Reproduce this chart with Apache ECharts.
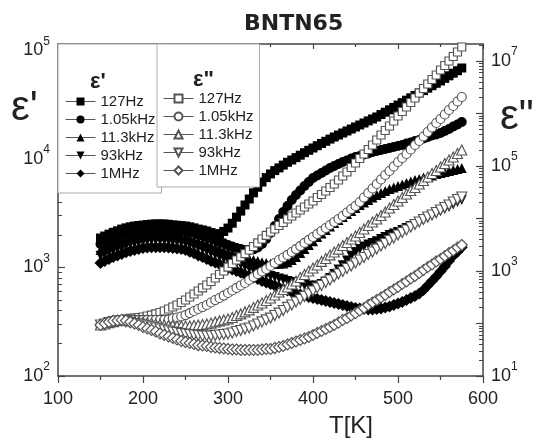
<!DOCTYPE html>
<html>
<head>
<meta charset="utf-8">
<title>BNTN65</title>
<script src="https://cdn.jsdelivr.net/npm/echarts@6/dist/echarts.min.js"></script>
<style>
  html, body { margin: 0; padding: 0; background: #fff; }
  #chart { width: 536px; height: 443px; }
</style>
</head>
<body>
<div id="chart"></div>
<script>
// temperature, K
const temps = [150,155,160,165,170,175,180,185,190,195,200,205,210,215,220,225,230,235,240,245,250,255,260,265,270,275,280,285,290,295,300,305,310,315,320,325,330,335,340,345,350,355,360,365,370,375,380,385,390,395,400,405,410,415,420,425,430,435,440,445,450,455,460,465,470,475,480,485,490,495,500,505,510,515,520,525,530,535,540,545,550,555,560,565,570,575];

// eps' (left axis, filled symbols)
const re127 = [1870,1950,2030,2110,2180,2260,2320,2370,2410,2440,2460,2490,2510,2520,2520,2520,2500,2470,2450,2430,2410,2370,2320,2260,2220,2170,2100,2040,2050,2150,2310,2560,2910,3310,3770,4280,4880,5490,6130,6740,7280,7820,8280,8790,9330,9790,10300,10840,11430,12030,12630,13260,13900,14560,15260,15950,16640,17360,18120,18900,19720,20580,21470,22450,23380,24390,25720,27010,28410,29900,31450,33100,34830,36660,38480,40580,42700,44930,47380,49860,52360,55340,58460,61780,65150,68990];
const re1k = [1650,1720,1790,1870,1930,1990,2060,2100,2150,2190,2220,2240,2260,2260,2260,2260,2260,2240,2220,2190,2170,2120,2080,2020,1970,1910,1850,1790,1720,1670,1610,1560,1510,1480,1450,1450,1470,1530,1650,1830,2080,2410,2800,3250,3690,4190,4660,5130,5640,6140,6680,7050,7430,7830,8260,8620,8990,9380,9690,10110,10430,10660,11000,11240,11600,11850,12100,12370,12630,12900,13180,13460,13900,14190,14660,14970,15450,15950,16470,16820,17360,18120,18900,19930,20800,21930];
const re11k = [1450,1510,1580,1650,1700,1750,1810,1870,1910,1950,1990,2010,2040,2040,2040,2040,2010,1990,1970,1950,1910,1850,1790,1750,1700,1650,1590,1540,1480,1430,1390,1350,1300,1260,1220,1200,1170,1150,1120,1100,1080,1080,1080,1090,1120,1170,1250,1360,1480,1610,1750,1910,2060,2220,2390,2570,2740,2920,3110,3320,3530,3770,3970,4190,4420,4660,4860,5070,5290,5460,5640,5820,6010,6200,6410,6540,6760,6900,7050,7280,7430,7590,7750,7920,8090,8260];
const re93k = [1280,1330,1390,1450,1500,1540,1590,1650,1680,1720,1750,1770,1790,1790,1790,1790,1770,1750,1740,1720,1680,1630,1580,1530,1480,1420,1360,1320,1260,1220,1170,1140,1100,1070,1020,990,959,929,899,862,835,818,792,775,751,735,720,705,690,683,675,683,705,743,800,871,959,1050,1160,1280,1390,1480,1560,1630,1680,1750,1830,1910,1990,2060,2120,2220,2310,2410,2520,2630,2740,2860,3020,3150,3320,3460,3610,3810,4020,4190];
const re1M = [1100,1150,1200,1250,1290,1330,1380,1420,1450,1480,1510,1530,1540,1540,1540,1540,1530,1510,1500,1480,1450,1400,1350,1290,1250,1200,1150,1110,1070,1030,990,959,929,899,862,835,809,783,751,727,705,683,654,634,614,595,576,564,552,535,524,513,502,491,481,471,461,451,442,432,423,419,415,410,410,415,419,428,437,451,466,481,502,524,546,576,620,683,751,826,919,1020,1150,1280,1400,1540];

// eps'' (right axis, open symbols)
const im127 = [93.6,97.8,102,107,112,117,122,125,127,130,133,139,145,152,162,173,189,206,225,251,280,320,365,416,475,541,631,736,858,1000,1190,1390,1620,1850,2150,2510,2930,3420,4070,4750,5530,6310,7360,8390,9780,11160,12730,14520,16560,18890,21540,25120,28650,33410,38950,45410,54120,64500,76880,93640,114100,139000,169300,206200,251200,312800,389500,474600,578000,719700,896500,1092000,1330000,1620000,1974000,2458000,2995000,3647000,4443000,5412000,6740000,8210000,10000000,12180000,14840000,18480000];
const im1k = [93.6,97.8,102,107,109,112,114,117,117,117,117,117,117,117,117,117,119,125,130,136,145,158,173,189,206,225,251,280,306,341,381,425,475,530,591,674,769,877,978,1092,1245,1420,1620,1808,2020,2300,2620,2990,3420,3900,4440,5070,5780,6590,7520,8580,9780,11160,13010,15170,17310,20620,25120,30600,37280,45410,55340,67400,80310,97830,119200,142000,169300,206200,251200,299400,364700,444300,541200,659200,785700,957200,1166000,1390000,1693000,2062000];
const im11k = [93.6,97.8,104,109,114,117,114,112,109,109,107,104,102,97.8,95.7,93.6,91.6,91.6,89.6,89.6,89.6,89.6,91.6,93.6,95.7,97.8,102,107,112,117,122,130,142,152,166,181,202,225,246,274,306,349,398,444,496,566,645,752,858,1000,1141,1300,1520,1730,2020,2300,2620,3060,3490,4070,4640,5410,6310,7360,8580,9780,11410,13300,15850,18480,21540,25120,29290,34150,38950,45410,52940,61730,71970,82100,95720,111600,130100,148400,173000,201700];
const im93k = [93.6,97.8,104,109,112,112,109,104,100,97.8,93.6,89.6,85.8,82.1,78.6,75.2,72.0,68.9,67.4,64.5,63.1,61.7,60.4,59.1,57.8,57.8,57.8,59.1,60.4,61.7,63.1,65.9,70.4,73.6,78.6,82.1,89.6,97.8,107,117,127,142,158,177,202,225,257,287,327,365,416,475,530,604,674,769,877,978,1116,1245,1420,1620,1808,2060,2300,2620,2990,3340,3810,4250,4850,5410,6040,6890,7690,8580,9570,10680,11660,13010,14520,16200,18080,20620,23010,25670];
const im1M = [93.6,100,107,112,114,117,114,107,100,93.6,85.8,80.3,75.2,70.4,64.5,60.4,56.5,52.9,49.6,46.4,44.4,42.5,40.7,38.9,38.1,37.3,35.7,34.9,34.1,33.4,32.7,32.0,32.0,31.3,31.3,31.3,31.3,31.3,32.0,32.7,32.7,34.1,35.7,37.3,39.8,42.5,45.4,48.5,51.8,55.3,60.4,65.9,72.0,78.6,85.8,93.6,104,117,127,142,158,177,197,225,251,280,313,349,398,444,496,566,631,720,803,916,1045,1192,1330,1520,1693,1931,2200,2460,2800,3130];

const freqs = ['127Hz', '1.05kHz', '11.3kHz', '93kHz', '1MHz'];

// axis ticks
const majorL = [100, 1000, 10000, 100000];
const minorL = [200,300,400,500,600,700,800,900,2000,3000,4000,5000,6000,7000,8000,9000,20000,30000,40000,50000,60000,70000,80000,90000];
const majorR = [10, 100, 1000, 10000, 100000, 1000000, 10000000];
const labelR = [10, 1000, 100000, 10000000];
const minorR = [20,30,40,50,60,70,80,90,200,300,400,500,600,700,800,900,2000,3000,4000,5000,6000,7000,8000,9000,20000,30000,40000,50000,60000,70000,80000,90000,200000,300000,400000,500000,600000,700000,800000,900000,2000000,3000000,4000000,5000000,6000000,7000000,8000000,9000000,20000000];

const FONT = 'Arial, "Liberation Sans", sans-serif';
const AXIS = '#444';
const TXT = '#222';

const symbols = ['rect', 'circle', 'triangle', 'triangle', 'diamond'];
const rotate = [0, 0, 0, 180, 0];
const sizeFilled = [9, 10, 10, 10, 12];
const sizeOpen = [8, 9, 10, 10, 11];

function makeSeries(vals, i, filled) {
  return {
    name: (filled ? "r " : "i ") + freqs[i],
    type: 'line',
    xAxisIndex: 0,
    yAxisIndex: filled ? 0 : 1,
    data: temps.map(function (t, k) { return [t, vals[k]]; }),
    symbol: symbols[i],
    symbolRotate: rotate[i],
    symbolSize: filled ? sizeFilled[i] : sizeOpen[i],
    showAllSymbol: true,
    lineStyle: { opacity: 0, width: 0 },
    itemStyle: filled
      ? { color: '#000', borderWidth: 0 }
      : { color: '#fff', borderColor: '#555', borderWidth: 1.2 },
    emphasis: { disabled: true },
    silent: true,
    animation: false,
    z: filled ? 2 : 3
  };
}

const realSets = [re127, re1k, re11k, re93k, re1M];
const imagSets = [im127, im1k, im11k, im93k, im1M];
const series = [];
realSets.forEach(function (v, i) { series.push(makeSeries(v, i, true)); });
imagSets.forEach(function (v, i) { series.push(makeSeries(v, i, false)); });

function powLabel(v) {
  const e = Math.round(Math.log10(v));
  return '{m|10}{s|' + e + '}';
}
const richPow = {
  m: { fontSize: 18, color: TXT, fontFamily: FONT, lineHeight: 30 },
  s: { fontSize: 12, color: TXT, fontFamily: FONT, lineHeight: 12, verticalAlign: 'top' }
};

const legendBase = {
  orient: 'vertical',
  itemWidth: 30,
  itemHeight: 10,
  itemGap: 3,
  backgroundColor: '#fff',
  borderColor: '#aaa',
  borderWidth: 1,
  selectedMode: false,
  textStyle: { fontSize: 15, color: TXT, fontFamily: FONT, lineHeight: 15 },
  lineStyle: { color: '#555', width: 1, opacity: 1 },
  formatter: function (name) { return name.slice(2); }
};

const chart = echarts.init(document.getElementById('chart'), null, { renderer: 'canvas' });
chart.setOption({
  backgroundColor: '#fff',
  animation: false,
  textStyle: { fontFamily: FONT },
  title: [
    { text: 'BNTN65', left: 244, top: 13, padding: 0,
      textStyle: { fontFamily: '"DejaVu Sans", sans-serif', fontWeight: 'bold', fontSize: 22, color: TXT } },
    { text: "ε'", left: 90, top: 71, padding: 0,
      textStyle: { fontFamily: FONT, fontWeight: 'bold', fontSize: 22, color: TXT } },
    { text: 'ε"', left: 193, top: 69, padding: 0,
      textStyle: { fontFamily: FONT, fontWeight: 'bold', fontSize: 22, color: TXT } },
    { text: "ε'", left: 11, top: 87, padding: 0,
      textStyle: { fontFamily: FONT, fontWeight: 'normal', fontSize: 42, color: TXT } },
    { text: 'ε"', left: 500, top: 96, padding: 0,
      textStyle: { fontFamily: FONT, fontWeight: 'normal', fontSize: 42, color: TXT } },
    { text: 'T[K]', left: 329, top: 414, padding: 0,
      textStyle: { fontFamily: FONT, fontWeight: 'normal', fontSize: 24, color: TXT } }
  ],
  legend: [
    Object.assign({}, legendBase, {
      left: 58, top: 44, padding: [50, 6, 12, 7],
      data: freqs.map(function (f) { return 'r ' + f; })
    }),
    Object.assign({}, legendBase, {
      left: 157, top: 44, padding: [47, 6, 9, 6],
      data: freqs.map(function (f) { return 'i ' + f; })
    })
  ],
  grid: { left: 58, right: 53, top: 44, bottom: 67, containLabel: false },
  xAxis: [
    {
      type: 'value', position: 'bottom', min: 100, max: 600, interval: 100,
      axisLine: { show: true, onZero: false, lineStyle: { color: AXIS, width: 1.5 } },
      axisTick: { show: true, inside: false, length: 7, lineStyle: { color: AXIS, width: 1.2 } },
      minorTick: { show: true, splitNumber: 2, length: 4, lineStyle: { color: AXIS, width: 1.2 } },
      axisLabel: { fontSize: 18, color: TXT, margin: 14, fontFamily: FONT },
      splitLine: { show: false },
      minorSplitLine: { show: false }
    },
    {
      type: 'value', position: 'top', min: 100, max: 600, interval: 100,
      axisLine: { show: true, onZero: false, lineStyle: { color: AXIS, width: 1.5 } },
      axisTick: { show: true, inside: true, length: 5, lineStyle: { color: AXIS, width: 1.2 } },
      minorTick: { show: true, splitNumber: 2, length: 3, lineStyle: { color: AXIS, width: 1.2 } },
      axisLabel: { show: false },
      splitLine: { show: false },
      minorSplitLine: { show: false }
    }
  ],
  yAxis: [
    {
      type: 'log', logBase: 10, position: 'left', min: 100, max: 114800,
      axisLine: { show: true, onZero: false, lineStyle: { color: AXIS, width: 1.5 } },
      axisTick: { show: true, inside: true, length: 7, customValues: majorL, lineStyle: { color: AXIS, width: 1.2 } },
      axisLabel: { customValues: majorL, formatter: powLabel, margin: 8, rich: richPow },
      splitLine: { show: false }
    },
    {
      type: 'log', logBase: 10, position: 'right', min: 10, max: 21080000,
      axisLine: { show: true, onZero: false, lineStyle: { color: AXIS, width: 1.5 } },
      axisTick: { show: true, inside: true, length: 7, customValues: majorR, lineStyle: { color: AXIS, width: 1.2 } },
      axisLabel: { customValues: labelR, formatter: powLabel, margin: 8, rich: richPow },
      splitLine: { show: false }
    },
    {
      type: 'log', logBase: 10, position: 'left', min: 100, max: 114800,
      axisLine: { show: false },
      axisTick: { show: true, inside: true, length: 4, customValues: minorL, lineStyle: { color: AXIS, width: 1 } },
      axisLabel: { show: false },
      splitLine: { show: false }
    },
    {
      type: 'log', logBase: 10, position: 'right', min: 10, max: 21080000,
      axisLine: { show: false },
      axisTick: { show: true, inside: true, length: 4, customValues: minorR, lineStyle: { color: AXIS, width: 1 } },
      axisLabel: { show: false },
      splitLine: { show: false }
    }
  ],
  series: series
});
</script>
</body>
</html>
